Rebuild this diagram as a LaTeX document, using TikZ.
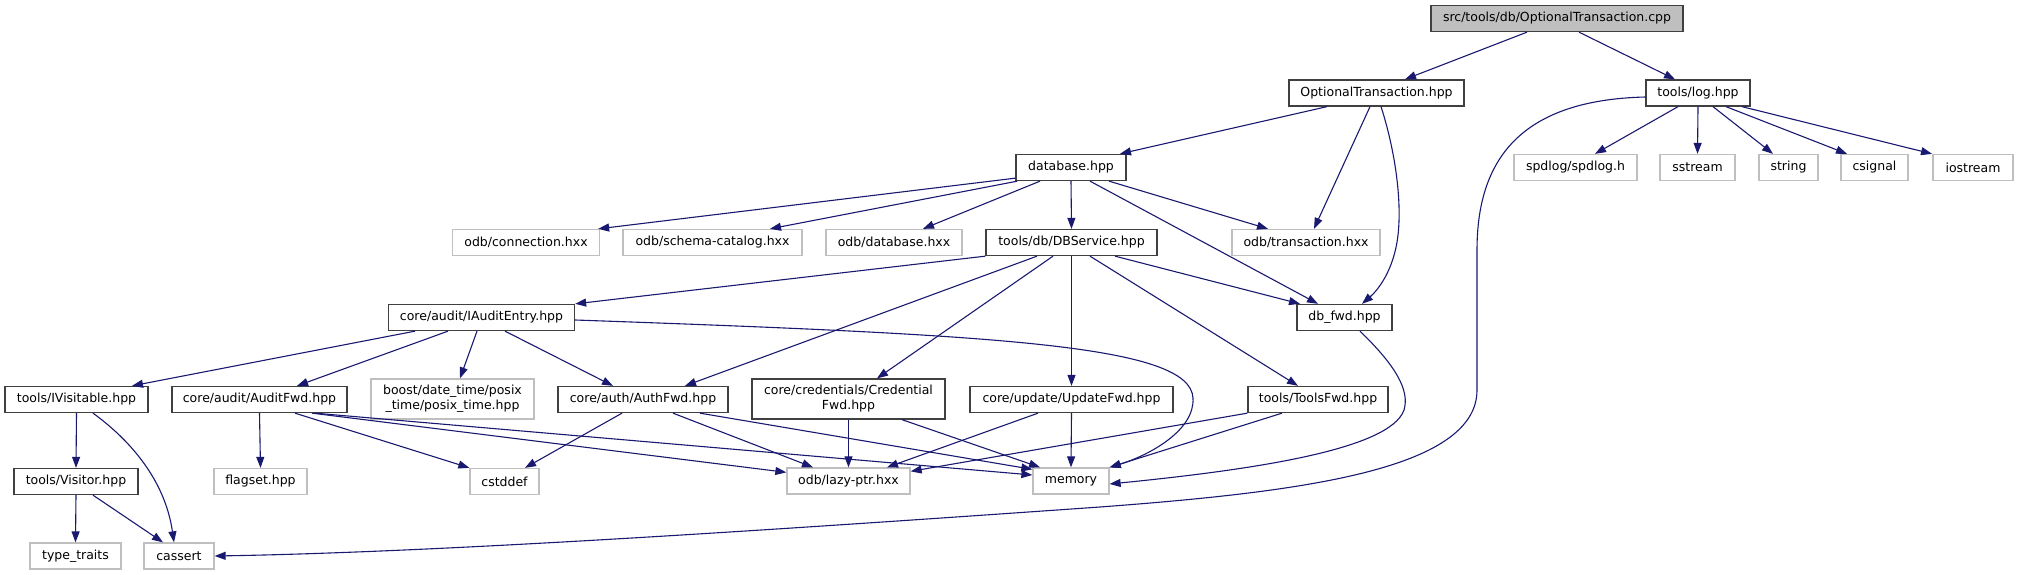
\documentclass[tikz,border=0pt]{standalone}
\usepackage{fontspec}
\setmainfont{DejaVu Sans}
\usetikzlibrary{arrows.meta}
\definecolor{edgeblue}{HTML}{191970}
\definecolor{boxgray}{HTML}{BFBFBF}
\definecolor{boxdark}{HTML}{404040}
\tikzset{
    dep file/.style={
        draw=boxdark,
        line width=1.3pt,
        fill=white,
        rectangle,
        minimum height=26,
        inner sep=2pt,
        align=center,
        font=\fontsize{12.5}{15}\selectfont,
        minimum width=#1
    },
    ext file/.style={dep file=#1, draw=boxgray},
    main file/.style={dep file=#1, fill=boxgray},
    inc edge/.style={
        draw=edgeblue,
        line width=1.1pt,
        -{Triangle[length=11pt,width=8pt]}
    }
}

\begin{document}
\begin{tikzpicture}[x=1pt,y=-1pt]
    \useasboundingbox (0,0) rectangle (2017,575);
    \node[main file=252] (root) at (1557,18.5) {src/tools/db/OptionalTransaction.cpp};
    \node[dep file=175] (opttrans) at (1376.5,93) {OptionalTransaction.hpp};
    \node[dep file=104] (log) at (1698,93) {tools/log.hpp};
    \node[ext file=123] (spdlog) at (1575.5,167.5) {spdlog/spdlog.h};
    \node[ext file=75] (sstream) at (1697.5,167.5) {sstream};
    \node[ext file=59] (string) at (1788.5,167.5) {string};
    \node[ext file=67] (csignal) at (1874.5,167.5) {csignal};
    \node[ext file=80] (iostream) at (1973,167.5) {iostream};
    \node[dep file=110] (database) at (1071,167.5) {database.hpp};
    \node[ext file=147] (connection) at (526,242.5) {odb/connection.hxx};
    \node[ext file=179] (schema) at (712.5,242.5) {odb/schema-catalog.hxx};
    \node[ext file=136] (odbdatabase) at (894,242.5) {odb/database.hxx};
    \node[dep file=171] (dbservice) at (1071.5,242.5) {tools/db/DBService.hpp};
    \node[ext file=148] (transaction) at (1306,242.5) {odb/transaction.hxx};
    \node[dep file=186] (iaudit) at (481.5,317.5) {core/audit/IAuditEntry.hpp};
    \node[dep file=95] (dbfwd) at (1344.5,317.5) {db\_fwd.hpp};
    \node[dep file=143] (ivisitable) at (76.5,399.5) {tools/IVisitable.hpp};
    \node[dep file=175] (auditfwd) at (259.5,399.5) {core/audit/AuditFwd.hpp};
    \node[ext file=163, minimum height=40] (posixtime) at (452.5,399) {boost/date\_time/posix\\\_time/posix\_time.hpp};
    \node[dep file=170] (authfwd) at (643,399.5) {core/auth/AuthFwd.hpp};
    \node[dep file=193, minimum height=40] (credfwd) at (848.5,399) {core/credentials/Credential\\Fwd.hpp};
    \node[dep file=203] (updatefwd) at (1071.5,399.5) {core/update/UpdateFwd.hpp};
    \node[dep file=140] (toolsfwd) at (1318,399.5) {tools/ToolsFwd.hpp};
    \node[dep file=124] (visitor) at (76,481.5) {tools/Visitor.hpp};
    \node[ext file=93] (flagset) at (260.5,481.5) {flagset.hpp};
    \node[ext file=69] (cstddef) at (504.5,481.5) {cstddef};
    \node[ext file=123] (lazyptr) at (848.5,481) {odb/lazy-ptr.hxx};
    \node[ext file=76] (memory) at (1071,481) {memory};
    \node[ext file=91] (typetraits) at (75.5,556) {type\_traits};
    \node[ext file=70] (cassert) at (179,556) {cassert};

    \foreach \a/\b in {log/sstream, database/dbservice, dbservice/updatefwd,
        ivisitable/visitor, visitor/typetraits, auditfwd/flagset,
        credfwd/lazyptr, updatefwd/memory}
        \draw[inc edge] (\a.south) -- (\b.north);

    \draw[inc edge] ([xshift=-30pt]root.south) -- ([xshift=28.5pt]opttrans.north);
    \draw[inc edge] ([xshift=22pt]root.south) -- ([xshift=-23pt]log.north);
    \draw[inc edge] ([xshift=-20pt]log.south) -- ([xshift=19.5pt]spdlog.north);
    \draw[inc edge] ([xshift=15pt]log.south) -- ([xshift=-15.5pt]string.north);
    \draw[inc edge] ([xshift=28pt]log.south) -- ([xshift=-27.5pt]csignal.north);
    \draw[inc edge] ([xshift=44pt]log.south) -- ([xshift=-41pt]iostream.north);
    \draw[inc edge] ([yshift=-4pt]log.west) .. controls (1520,100) and (1477,160) .. (1477,250)
        -- (1477,390) .. controls (1477,470) and (1300,492) .. (1100,507)
        .. controls (800,528) and (450,552) .. (cassert.east);

    \draw[inc edge] ([xshift=-49.5pt]opttrans.south) -- ([xshift=49pt]database.north);
    \draw[inc edge] ([xshift=-6.5pt]opttrans.south) -- ([xshift=8pt]transaction.north);
    \draw[inc edge] ([xshift=4.5pt]opttrans.south) .. controls (1395,150) and (1402,200) .. (1398,235)
        .. controls (1394,270) and (1378,290) .. ([xshift=17.5pt]dbfwd.north);

    \draw[inc edge] ([yshift=3pt]database.south west) -- ([xshift=-2pt]connection.north east);
    \draw[inc edge] ([xshift=2pt]database.south west) -- ([xshift=57.5pt]schema.north);
    \draw[inc edge] ([xshift=-31pt]database.south) -- ([xshift=29pt]odbdatabase.north);
    \draw[inc edge] ([xshift=19pt]database.south) -- ([xshift=-26.5pt]dbfwd.north);
    \draw[inc edge] ([xshift=38pt]database.south) -- ([xshift=-38pt]transaction.north);

    \draw[inc edge] (dbservice.south west) -- (iaudit.north east);
    \draw[inc edge] ([xshift=-34.5pt]dbservice.south) -- ([xshift=42pt]authfwd.north);
    \draw[inc edge] ([xshift=-18.5pt]dbservice.south) -- ([xshift=28.5pt]credfwd.north);
    \draw[inc edge] ([xshift=18.5pt]dbservice.south) -- ([xshift=-20pt]toolsfwd.north);
    \draw[inc edge] ([xshift=43.5pt]dbservice.south) -- ([xshift=-44.5pt]dbfwd.north);

    \draw[inc edge] ([xshift=-66.5pt]iaudit.south) -- ([xshift=55.5pt]ivisitable.north);
    \draw[inc edge] ([xshift=-33.5pt]iaudit.south) -- ([xshift=37.5pt]auditfwd.north);
    \draw[inc edge] ([xshift=-4.5pt]iaudit.south) -- ([xshift=7.5pt]posixtime.north);
    \draw[inc edge] ([xshift=23.5pt]iaudit.south) -- ([xshift=-30pt]authfwd.north);
    \draw[inc edge] ([yshift=-2.5pt]iaudit.east) .. controls (1000,335) and (1190,345) .. (1193,398)
        .. controls (1195,430) and (1150,455) .. (memory.north east);

    \draw[inc edge] ([xshift=16.5pt]ivisitable.south) .. controls (130,440) and (165,480) .. ([xshift=-5pt]cassert.north);
    \draw[inc edge] ([xshift=17pt]visitor.south) -- ([xshift=-16pt]cassert.north);

    \draw[inc edge] ([xshift=35.5pt]auditfwd.south) -- (cstddef.north west);
    \draw[inc edge] ([xshift=52.5pt]auditfwd.south) -- ([yshift=-5pt]lazyptr.north west);
    \draw[inc edge] ([xshift=55.5pt]auditfwd.south) -- ([yshift=6pt]memory.west);

    \draw[inc edge] ([xshift=-21pt]authfwd.south) -- ([xshift=20.5pt]cstddef.north);
    \draw[inc edge] ([xshift=30pt]authfwd.south) -- ([xshift=-35.5pt]lazyptr.north);
    \draw[inc edge] ([xshift=57pt]authfwd.south) -- ([yshift=-2pt]memory.north west);

    \draw[inc edge] ([xshift=53.5pt]credfwd.south) -- ([xshift=-31pt]memory.north);
    \draw[inc edge] ([xshift=-33.5pt]updatefwd.south) -- ([xshift=38.5pt]lazyptr.north);
    \draw[inc edge] (toolsfwd.south west) -- ([yshift=-4pt]lazyptr.north east);
    \draw[inc edge] ([xshift=-36pt]toolsfwd.south) -- (memory.north east);
    \draw[inc edge] ([xshift=15.5pt]dbfwd.south) .. controls (1395,365) and (1410,390) .. (1404,410)
        .. controls (1390,450) and (1250,470) .. ([yshift=-3pt]memory.east);
\end{tikzpicture}
\end{document}
